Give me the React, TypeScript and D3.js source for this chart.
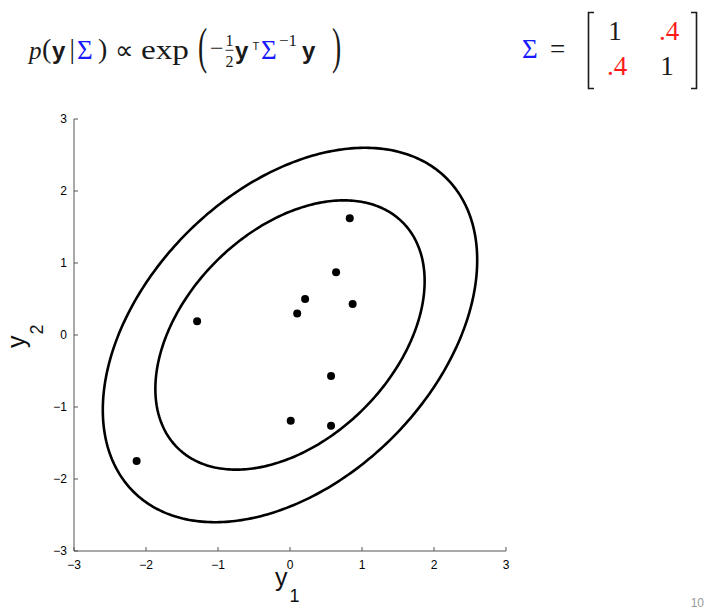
import React from 'react';
import * as d3 from 'd3';

// sample points (y1, y2)
const pointsY1 = [0.83, 0.64, 0.21, 0.1, 0.87, -1.29, 0.57, 0.01, 0.57, -2.13];
const pointsY2 = [1.62, 0.87, 0.5, 0.3, 0.43, 0.19, -0.57, -1.19, -1.26, -1.75];

// covariance and contour levels (Mahalanobis radius)
const sigma = [
  [1, 0.4],
  [0.4, 1],
];
const sigmaLabels = [
  ['1', '.4'],
  ['.4', '1'],
];
const contourLevels = [1.87, 2.6];

const xTicks = [-3, -2, -1, 0, 1, 2, 3];
const yTicks = [-3, -2, -1, 0, 1, 2, 3];

const W = 711;
const H = 610;
const SANS = '"Liberation Sans", Arial, Helvetica, sans-serif';
const SERIF = '"Liberation Serif", "Times New Roman", serif';
const BLUE = '#1a1aff';
const RED = '#ff1a1a';
const INK = '#1a1a1a';

function Formula() {
  const base = 58.5;
  const bigParen = (x0: number, ch: string) => (
    <text transform={`translate(${x0}, 62.5) scale(1.15, 2.1)`} fontSize={24}>
      {ch}
    </text>
  );
  return (
    <g fontFamily={SERIF} fontSize={25} fill={INK}>
      <text x={29} y={base} fontStyle="italic">p</text>
      <text x={42} y={base - 1} fontSize={28}>(</text>
      <text x={52} y={base} fontFamily={SANS} fontWeight="bold" fontSize={24}>y</text>
      <text x={69.5} y={base - 1} fontSize={27}>|</text>
      <text x={77} y={base} fill={BLUE} fontSize={27}>Σ</text>
      <text x={98} y={base - 1} fontSize={28}>)</text>
      <text x={115} y={base} fontSize={26}>∝</text>
      <text x={141} y={base} fontSize={28} textLength={48} lengthAdjust="spacingAndGlyphs">exp</text>
      {bigParen(198, '(')}
      <text x={210} y={55.5} fontSize={24}>−</text>
      <text x={229.5} y={46} fontSize={16} textAnchor="middle">1</text>
      <line x1={225.5} x2={233.5} y1={50.3} y2={50.3} stroke={INK} strokeWidth={0.9} />
      <text x={229.5} y={66.5} fontSize={16} textAnchor="middle">2</text>
      <text x={235} y={base} fontFamily={SANS} fontWeight="bold" fontSize={24}>y</text>
      <text x={252.5} y={50.3} fontFamily={SANS} fontSize={11}>T</text>
      <text x={261} y={base} fill={BLUE} fontSize={27}>Σ</text>
      <text x={279} y={46} fontSize={17}>−1</text>
      <text x={302} y={base} fontFamily={SANS} fontWeight="bold" fontSize={24}>y</text>
      {bigParen(332, ')')}
    </g>
  );
}

function Matrix() {
  const rows = [40, 75];
  const cols = [615, 667];
  return (
    <g fontFamily={SERIF} fontSize={27} fill={INK}>
      <text x={522} y={58} fill={BLUE}>Σ</text>
      <text x={550} y={58}>=</text>
      {sigma.map((row, i) =>
        row.map((v, j) => (
          <text
            key={i + '-' + j}
            x={cols[j] + (i !== j ? 2 : 0)}
            y={rows[i]}
            textAnchor="middle"
            fill={i === j ? INK : RED}
          >
            {sigmaLabels[i][j]}
          </text>
        ))
      )}
      <path d="M594,12.5 H588.5 V88.5 H594" fill="none" stroke={INK} strokeWidth={1.6} />
      <path d="M691,12.5 H696.5 V88.5 H691" fill="none" stroke={INK} strokeWidth={1.6} />
    </g>
  );
}

export default function App() {
  const x = d3.scaleLinear().domain([-3, 3]).range([74, 506]);
  const y = d3.scaleLinear().domain([-3, 3]).range([551, 119]);

  // Cholesky factor of sigma: ellipse = r * L * (cos t, sin t)
  const l11 = Math.sqrt(sigma[0][0]);
  const l21 = sigma[1][0] / l11;
  const l22 = Math.sqrt(sigma[1][1] - l21 * l21);
  const angles = d3.range(0, 360, 1).map((d) => (d * Math.PI) / 180);

  const ellipsePath = (r: number) =>
    d3
      .line<[number, number]>()
      .x((p) => x(p[0]))
      .y((p) => y(p[1]))
      .curve(d3.curveLinearClosed)(
      angles.map((t) => [r * l11 * Math.cos(t), r * (l21 * Math.cos(t) + l22 * Math.sin(t))])
    );

  const fmt = (v: number) => (v < 0 ? '−' + Math.abs(v) : String(v));
  const axisColor = '#555';

  return (
    <svg width={W} height={H} style={{ position: 'absolute', left: 0, top: 0, background: '#fff' }}>
      <Formula />
      <Matrix />

      {/* axes */}
      <g stroke={axisColor} strokeWidth={1} fill="none">
        <line x1={x(-3)} x2={x(-3)} y1={y(3)} y2={y(-3)} />
        <line x1={x(-3)} x2={x(3)} y1={y(-3)} y2={y(-3)} />
        {xTicks.map((t) => (
          <line key={'xt' + t} x1={x(t)} x2={x(t)} y1={y(-3)} y2={y(-3) - 4} />
        ))}
        {yTicks.map((t) => (
          <line key={'yt' + t} x1={x(-3)} x2={x(-3) + 4} y1={y(t)} y2={y(t)} />
        ))}
      </g>
      <g fontFamily={SANS} fontSize={12} fill="#000">
        {xTicks.map((t) => (
          <text key={'xl' + t} x={x(t)} y={y(-3) + 18} textAnchor="middle">
            {fmt(t)}
          </text>
        ))}
        {yTicks.map((t) => (
          <text key={'yl' + t} x={x(-3) - 7} y={y(t) + 4} textAnchor="end">
            {fmt(t)}
          </text>
        ))}
      </g>

      {/* axis labels */}
      <text x={275} y={586} fontFamily={SANS} fontSize={25} fill="#111">
        y<tspan fontSize={18} dx={2} dy={16}>1</tspan>
      </text>
      <text transform="translate(25, 348) rotate(-90)" fontFamily={SANS} fontSize={25} fill="#111">
        y<tspan fontSize={18} dx={1} dy={18}>2</tspan>
      </text>

      {/* contours */}
      {contourLevels.map((r) => (
        <path key={r} d={ellipsePath(r) || ''} fill="none" stroke="#000" strokeWidth={2.6} />
      ))}

      {/* samples */}
      {pointsY1.map((v, i) => (
        <circle key={i} cx={x(v)} cy={y(pointsY2[i])} r={4} fill="#000" />
      ))}

      <text x={704} y={607} textAnchor="end" fontFamily={SANS} fontSize={12} fill="#999">
        10
      </text>
    </svg>
  );
}
